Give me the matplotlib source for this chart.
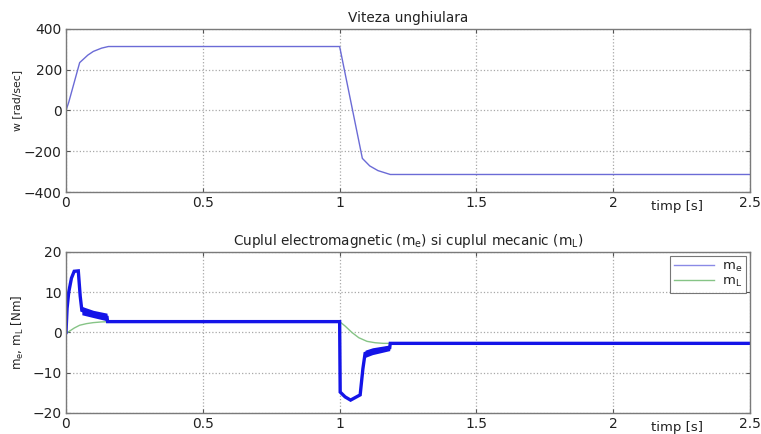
import numpy as np
import matplotlib
matplotlib.use("Agg")
import matplotlib.pyplot as plt

# ---------------- data ----------------
# viteza unghiulara w [rad/sec]
t_w = [0, 0.01, 0.05, 0.08, 0.10, 0.13, 0.155, 1.0, 1.083, 1.11, 1.14, 1.185, 2.5]
w = [0, 40, 235, 272, 290, 306, 314, 314, -235, -272, -295, -314, -314]

# cuplul electromagnetic m_e [Nm] (curba medie)
t_me = [0, 0.004, 0.01, 0.02, 0.03, 0.045, 0.052, 0.058, 0.07, 0.10, 0.15,
        0.152, 1.0, 1.002, 1.02, 1.04, 1.075, 1.085, 1.093, 1.12, 1.183,
        1.185, 2.5]
me = [0, 6, 10, 13.5, 15.2, 15.3, 9, 5.5, 5.2, 4.6, 3.8,
      2.7, 2.7, -14.8, -16.0, -16.8, -15.5, -9, -5.2, -4.6, -3.8,
      -2.7, -2.7]

# banda de oscilatie a lui m_e in regiunile tranzitorii
t_band1 = [0.058, 0.07, 0.10, 0.15]
lo_band1 = [4.4, 4.2, 3.7, 2.9]
hi_band1 = [6.5, 6.2, 5.5, 4.8]
t_band2 = [1.093, 1.12, 1.183]
lo_band2 = [-6.2, -5.5, -4.5]
hi_band2 = [-4.4, -3.8, -3.1]

# cuplul mecanic m_L [Nm]
t_ml = [0, 0.01, 0.03, 0.05, 0.075, 0.10, 0.13, 0.16, 1.0, 1.02, 1.045, 1.07,
        1.10, 1.13, 1.16, 2.5]
ml = [0, 0.2, 1.1, 1.8, 2.2, 2.45, 2.62, 2.7, 2.7, 1.6, 0.0, -1.3,
      -2.2, -2.55, -2.7, -2.7]

# ---------------- style ----------------
plt.rcParams['font.family'] = ['DejaVu Sans']
plt.rcParams['mathtext.default'] = 'regular'

c_w = '#6b6bd6'
c_me = '#1414e8'
c_ml = '#86c486'
c_spine = '#7a7a7a'

fig = plt.figure(figsize=(7.61, 4.34), dpi=100)
ax1 = fig.add_axes([0.0867, 0.5576, 0.899, 0.3756])
ax2 = fig.add_axes([0.0867, 0.0484, 0.899, 0.371])


def style(ax):
    ax.set_xlim(0, 2.5)
    ax.set_xticks([0, 0.5, 1, 1.5, 2, 2.5])
    ax.set_xticklabels(['0', '0.5', '1', '1.5', '2', '2.5'])
    ax.tick_params(direction='in', length=3, width=0.8, top=True, right=True,
                   labelsize=10, pad=3, color='#555555', labelcolor='#222222')
    ax.grid(True, linestyle=':', color='#a8a8a8', linewidth=0.9)
    for s in ax.spines.values():
        s.set_color(c_spine)
        s.set_linewidth(1.0)
    ax.text(0.893, -0.088, 'timp [s]', transform=ax.transAxes,
            ha='center', va='center', fontsize=9.5, color='#222222')


# --- viteza ---
ax1.plot(t_w, w, color=c_w, lw=1.0)
ax1.set_ylim(-400, 400)
ax1.set_yticks([-400, -200, 0, 200, 400])
style(ax1)
ax1.set_title('Viteza unghiulara', fontsize=9.8, pad=5, color='#222222')
ax1.set_ylabel('w [rad/sec]', fontsize=7.8, color='#222222')
ax1.yaxis.set_label_coords(-0.064, 0.56)

# --- cupluri ---
ax2.plot(t_ml, ml, color=c_ml, lw=1.0)
ax2.fill_between(t_band1, lo_band1, hi_band1, color=c_me, lw=0)
ax2.fill_between(t_band2, lo_band2, hi_band2, color=c_me, lw=0)
ax2.plot(t_me, me, color=c_me, lw=2.4, solid_joinstyle='miter')
ax2.set_ylim(-20, 20)
ax2.set_yticks([-20, -10, 0, 10, 20])
style(ax2)
ax2.set_title('Cuplul electromagnetic ($m_e$) si cuplul mecanic ($m_L$)',
              fontsize=9.8, pad=5, color='#222222')
ax2.set_ylabel('$m_e$, $m_L$ [Nm]', fontsize=8.5, color='#222222')
ax2.yaxis.set_label_coords(-0.058, 0.5)

h1, = ax2.plot([], [], color='#8a8ae6', lw=1.0)
h2, = ax2.plot([], [], color=c_ml, lw=1.0)
leg = ax2.legend([h1, h2], ['$m_e$', '$m_L$'], loc='upper right',
                 fontsize=9.5, frameon=True, fancybox=False,
                 borderaxespad=0.3, handlelength=3.0, labelspacing=0.05,
                 borderpad=0.3, handletextpad=0.6)
leg.get_frame().set_edgecolor('#555555')
leg.get_frame().set_linewidth(0.8)
for txt in leg.get_texts():
    txt.set_color('#222222')

fig.savefig('out.png', dpi=100)
